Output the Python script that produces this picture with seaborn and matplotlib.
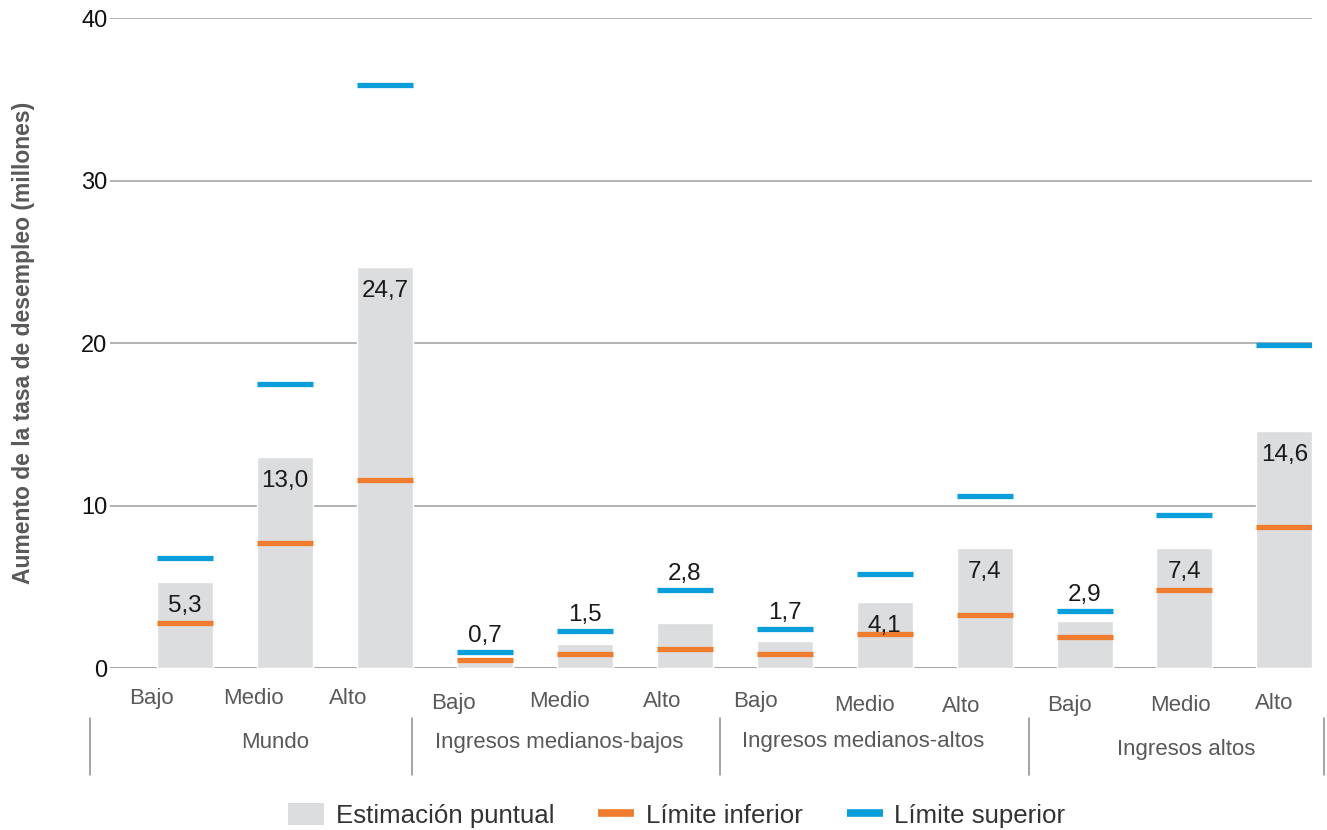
import numpy as np
import pandas as pd
import matplotlib
matplotlib.use('Agg')
import matplotlib.pyplot as plt
import matplotlib.transforms as mtrans
import seaborn as sns
from matplotlib.patches import Patch
from matplotlib.lines import Line2D

# DATA
groups = ['Mundo', 'Ingresos medianos-bajos', 'Ingresos medianos-altos', 'Ingresos altos']
levels = ['Bajo', 'Medio', 'Alto']
estimate = [5.3, 13.0, 24.7, 0.7, 1.5, 2.8, 1.7, 4.1, 7.4, 2.9, 7.4, 14.6]
lower = [2.8, 7.7, 11.6, 0.5, 0.9, 1.2, 0.9, 2.1, 3.3, 1.9, 4.8, 8.7]
upper = [6.8, 17.5, 35.9, 1.0, 2.3, 4.8, 2.4, 5.8, 10.6, 3.5, 9.4, 19.9]
yticks = [0, 10, 20, 30, 40]

# layout: labels in the original are hand placed (pixel shifts)
tick_dx = [-34, -32, -37, -31, -25, -23, -29, -20, -23, -15, -4, -10]
tick_dy = [0, 0, 0, 5, 3, 3, 3, 7, 8, 7, 7, 5]
group_dx = [24, -7, -11, 10]
group_dy = [0, 0, -1, 7]

GREY = '#DCDDDE'
ORANGE = '#EF7D2D'
BLUE = '#0A9FDA'
TXT = '#595959'

sns.set_style('white')
plt.rcParams['font.family'] = ['Liberation Sans', 'DejaVu Sans']

df = pd.DataFrame({
    'grupo': np.repeat(groups, 3),
    'nivel': levels * 4,
    'estimacion': estimate,
    'inferior': lower,
    'superior': upper,
})
df['clave'] = df['grupo'] + ' ' + df['nivel']

fig = plt.figure(figsize=(13.27, 8.30), dpi=100)
ax = fig.add_axes([0.083, 0.195, 0.906, 0.783])

sns.barplot(data=df, x='clave', y='estimacion', order=list(df['clave']),
            color=GREY, saturation=1, width=0.56, ax=ax, zorder=2)

x = np.arange(len(df))
hw = 0.28
ax.hlines(df['inferior'], x - hw, x + hw, color=ORANGE, lw=3.8, zorder=3)
ax.hlines(df['superior'], x - hw, x + hw, color=BLUE, lw=3.8, zorder=3)

# value labels: inside the top of tall bars, above the upper limit for small ones
for i, r in df.iterrows():
    txt = f"{r['estimacion']:.1f}".replace('.', ',')
    if r['estimacion'] >= 4:
        ax.text(i, r['estimacion'] - 1.5, txt, ha='center', va='center',
                fontsize=17.5, color='#1a1a1a', zorder=4)
    else:
        ax.text(i, max(r['estimacion'], r['superior']) + 0.3, txt, ha='center',
                va='bottom', fontsize=17.5, color='#1a1a1a', zorder=4)

ax.set_ylim(0, 40)
ax.set_xlim(-0.75, 11.28)
ax.set_yticks(yticks)
ax.set_yticklabels([str(t) for t in yticks], fontsize=17, color='#111111')
ax.get_yticklabels()[0].set_transform(
    ax.get_yticklabels()[0].get_transform() +
    mtrans.ScaledTranslation(-0.04, -0.08, fig.dpi_scale_trans))
ax.yaxis.grid(True, color='#A6A6A6', lw=1.2, zorder=0)
ax.set_axisbelow(True)
for s in ax.spines.values():
    s.set_visible(False)
ax.axhline(0, color='#A6A6A6', lw=1.4, zorder=1)
ax.tick_params(axis='both', length=0)
ax.tick_params(axis='y', pad=2)
ax.tick_params(axis='x', pad=14)
ax.set_xticks(x)
ax.set_xticklabels(df['nivel'], fontsize=16, color=TXT)
for lab, dx, dy in zip(ax.get_xticklabels(), tick_dx, tick_dy):
    lab.set_transform(lab.get_transform() +
                      mtrans.ScaledTranslation(dx / 100, -dy / 100, fig.dpi_scale_trans))
ax.set_xlabel('')
ax.set_ylabel('Aumento de la tasa de desempleo (millones)', fontsize=16.5,
              fontweight='bold', color=TXT, labelpad=33)

# group separators and group names below the axis
seps = [-0.95, 2.27, 5.35, 8.44, 11.4]
tr = ax.get_xaxis_transform()
for s in seps:
    ax.plot([s, s], [-0.077, -0.165], transform=tr, color='#8c8c8c', lw=1.1,
            clip_on=False)
for g, a, b, dx, dy in zip(groups, seps[:-1], seps[1:], group_dx, group_dy):
    t = ax.text((a + b) / 2, -0.114, g, transform=tr, ha='center', va='center',
                fontsize=16, color=TXT)
    t.set_transform(tr + mtrans.ScaledTranslation(dx / 100, -dy / 100, fig.dpi_scale_trans))

handles = [Patch(facecolor=GREY, edgecolor='none'),
           Line2D([0], [0], color=ORANGE, lw=5.5, solid_capstyle='butt'),
           Line2D([0], [0], color=BLUE, lw=5.5, solid_capstyle='butt')]
fig.legend(handles, ['Estimación puntual', 'Límite inferior', 'Límite superior'],
           loc='center', bbox_to_anchor=(0.51, 0.018), ncol=3, frameon=False,
           fontsize=18.6, handlelength=1.4, handleheight=0.95,
           handletextpad=0.45, columnspacing=1.7, labelcolor='#333333')

fig.savefig('out.png', dpi=100)
